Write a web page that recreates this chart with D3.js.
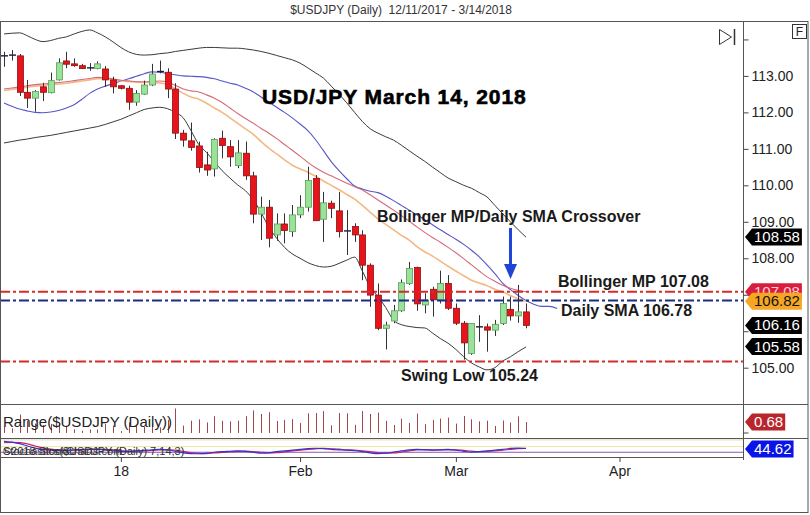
<!DOCTYPE html>
<html><head><meta charset="utf-8">
<script src="https://cdn.jsdelivr.net/npm/d3@7"></script>
<style>body{margin:0;background:#fff}svg{display:block}text{font-family:"Liberation Sans",Arial,sans-serif}</style>
</head><body><svg id="c" width="810" height="515"></svg>
<script>
// ---- data, one entry per daily bar starting 12/11/2017 ----
const open  = [113.56,113.57,113.55,112.55,112.39,112.70,112.54,112.89,113.41,113.33,113.28,113.22,113.20,113.19,112.89,112.73,112.66,112.28,112.50,112.75,113.12,113.10,112.64,111.43,111.22,111.08,110.56,110.45,111.29,111.06,110.54,110.88,110.26,109.21,109.40,108.64,108.94,108.73,109.19,109.40,110.19,109.07,109.51,109.30,108.75,108.87,108.64,107.81,106.99,106.08,106.28,106.56,107.31,107.75,106.72,107.15,106.86,107.31,106.63,106.22,105.39,106.12,106.12,106.03,106.21,106.60,106.42,106.53];
const high  = [113.66,113.71,113.60,112.89,112.61,112.81,113.09,113.48,113.66,113.48,113.33,113.35,113.40,113.27,112.98,112.75,112.73,112.61,112.87,113.33,113.42,113.21,112.80,111.52,111.72,111.20,110.92,111.29,111.50,111.24,111.24,111.20,110.37,109.69,109.60,109.23,109.23,109.46,109.73,110.51,110.28,109.82,109.58,109.82,109.32,108.96,108.77,107.86,107.31,106.26,106.72,107.42,107.90,107.77,107.04,107.22,107.66,107.54,106.76,106.28,106.21,106.44,106.21,106.31,106.95,106.95,107.27,106.76];
const low   = [113.25,113.42,112.45,112.12,112.02,112.31,112.52,112.87,113.21,113.25,113.19,113.14,113.18,112.70,112.52,112.63,112.07,112.18,112.48,112.72,113.07,112.39,111.27,111.06,110.95,110.35,110.26,110.24,110.74,110.51,110.47,110.15,108.96,108.50,108.30,108.48,108.41,108.59,109.10,109.28,109.03,108.45,109.10,108.57,108.09,108.45,107.40,106.67,106.03,105.50,106.22,106.53,107.27,106.56,106.49,106.40,106.76,106.58,106.17,105.22,105.35,105.71,105.44,105.87,106.17,106.29,106.23,106.08];
const close = [113.55,113.57,112.55,112.39,112.57,112.55,112.87,113.36,113.32,113.28,113.20,113.22,113.33,112.89,112.70,112.66,112.28,112.52,112.75,113.05,113.12,112.64,111.43,111.24,111.04,110.49,110.42,111.26,111.09,110.78,110.89,110.26,109.21,109.40,108.55,108.94,108.76,109.19,109.40,110.13,109.03,109.52,109.37,108.73,108.75,108.64,107.81,106.99,106.08,106.17,106.56,107.33,107.72,106.75,106.86,106.86,107.31,106.63,106.22,105.68,106.21,106.12,106.03,106.19,106.76,106.42,106.53,106.16];
const bbUpper = [114.15,114.17,114.18,114.10,114.00,113.94,113.97,114.03,114.07,114.15,114.22,114.26,114.18,114.07,113.93,113.78,113.66,113.59,113.57,113.58,113.61,113.63,113.67,113.70,113.73,113.76,113.78,113.78,113.77,113.76,113.76,113.74,113.71,113.67,113.62,113.56,113.50,113.44,113.35,113.22,113.08,112.94,112.72,112.50,112.26,112.00,111.75,111.55,111.43,111.33,111.24,111.10,110.95,110.80,110.66,110.50,110.35,110.20,110.10,110.00,109.92,109.80,109.68,109.45,109.22,109.00,108.78,108.58];
const bbLower = [111.16,111.20,111.24,111.27,111.31,111.34,111.37,111.41,111.45,111.49,111.53,111.57,111.61,111.67,111.74,111.81,111.90,111.99,112.08,112.12,112.14,112.10,112.00,111.85,111.50,111.12,110.90,110.65,110.40,110.20,110.01,109.85,109.60,109.25,108.85,108.55,108.30,108.12,108.00,107.88,107.80,107.76,107.78,107.86,107.95,108.03,107.65,107.21,106.95,106.65,106.30,106.18,106.13,106.10,106.09,105.95,105.80,105.67,105.50,105.30,105.13,105.02,104.94,105.00,105.18,105.30,105.44,105.57];
const bbMid   = [112.64,112.67,112.70,112.73,112.76,112.78,112.80,112.82,112.84,112.87,112.90,112.93,112.96,112.95,112.92,112.88,112.86,112.84,112.84,112.85,112.86,112.83,112.74,112.64,112.59,112.56,112.48,112.39,112.27,112.12,111.97,111.83,111.70,111.56,111.43,111.28,111.12,110.96,110.80,110.63,110.48,110.36,110.26,110.16,110.06,109.96,109.87,109.74,109.60,109.46,109.32,109.17,109.02,108.86,108.71,108.57,108.44,108.30,108.15,107.99,107.82,107.65,107.49,107.37,107.26,107.18,107.12,107.08];
const sma     = [112.60,112.63,112.66,112.69,112.72,112.74,112.76,112.78,112.80,112.83,112.86,112.89,112.92,112.92,112.90,112.87,112.85,112.83,112.82,112.82,112.81,112.76,112.65,112.52,112.42,112.36,112.25,112.12,112.00,111.85,111.70,111.55,111.40,111.20,111.02,110.86,110.70,110.55,110.45,110.36,110.25,110.12,110.00,109.88,109.75,109.62,109.45,109.26,109.08,108.93,108.78,108.63,108.50,108.32,108.18,108.06,107.92,107.78,107.65,107.52,107.40,107.32,107.25,107.15,107.08,106.98,106.89,106.82];
const blueLine = [112.26,112.17,112.09,112.04,112.00,111.99,112.01,112.05,112.12,112.21,112.36,112.52,112.64,112.72,112.79,112.86,112.92,112.99,113.06,113.11,113.10,113.06,113.03,113.00,112.99,112.98,112.96,112.92,112.86,112.80,112.75,112.66,112.56,112.42,112.28,112.14,112.00,111.85,111.68,111.50,111.25,110.95,110.65,110.40,110.18,109.98,109.90,109.84,109.80,109.70,109.58,109.45,109.32,109.19,109.06,108.92,108.78,108.65,108.52,108.38,108.22,108.04,107.82,107.58,107.32,107.14,106.98,106.84,106.74,106.68,106.68,106.62];
const stochK = [82,78,70,58,47,40,36,34,35,38,40,42,41,37,33,30,30,32,35,38,40,37,30,22,18,17,20,25,28,30,32,30,25,20,22,28,32,36,40,44,46,44,40,38,36,33,28,22,18,20,26,32,38,40,38,36,38,40,36,30,26,28,32,36,40,45,47,44.62];
const stochD = [75,77,76,69,58,48,41,37,35,36,37,40,41,40,37,33,31,31,32,35,38,38,36,30,23,19,18,21,24,28,30,31,29,25,22,23,27,32,36,40,43,45,43,41,38,36,32,28,23,20,21,26,32,37,39,38,37,38,38,35,31,28,29,32,36,40,44,45];
const xTickBars   = [15, 38, 58, 79];
const xTickLabels = ["18", "Feb", "Mar", "Apr"];
const yTickValues = [105,106,107,108,109,110,111,112,113,114];
const yLabeled    = [105,108,109,110,111,112,113];
const levelBollingerMP = 107.08, levelSMA = 106.84, levelSwingLow = 105.17;
const tags = [
  {v:108.58, t:"108.58", bg:"#000", fg:"#fff"},
  {v:107.08, t:"107.08", bg:"#d81e3c", fg:"#fbd0d8"},
  {v:106.82, t:"106.82", bg:"#f5a623", fg:"#111"},
  {v:106.16, t:"106.16", bg:"#000", fg:"#fff"},
  {v:105.58, t:"105.58", bg:"#000", fg:"#fff"}
];
const rangeLast = 0.68, stochLast = 44.62;

// ---- scales ----
const svg = d3.select("#c");
const x  = d3.scaleLinear().domain([0, 67]).range([4, 526]);
const y  = d3.scaleLinear().domain([105, 113]).range([367.7, 75.9]);
const yR = d3.scaleLinear().domain([0, 1]).range([433, 417]);
const yS = d3.scaleLinear().domain([0, 100]).range([457, 438]);
const AX = 743.5;

svg.append("rect").attr("width",810).attr("height",515).attr("fill","#fff");
svg.append("text").attr("x",401).attr("y",14).attr("text-anchor","middle")
  .attr("font-size",12).attr("fill","#333").style("white-space","pre")
  .text("$USDJPY (Daily)  12/11/2017 - 3/14/2018");

const defs = svg.append("defs");
defs.append("clipPath").attr("id","cm").append("rect").attr("x",0).attr("y",21).attr("width",743).attr("height",383);
defs.append("clipPath").attr("id","cr").append("rect").attr("x",0).attr("y",405).attr("width",743).attr("height",33);
defs.append("clipPath").attr("id","cs").append("rect").attr("x",0).attr("y",439).attr("width",743).attr("height",18);

const main = svg.append("g").attr("clip-path","url(#cm)");
const line = arr => d3.line().x((d,i)=>x(i)).y(d=>y(d)).curve(d3.curveMonotoneX)(arr);
main.append("path").attr("d",line(bbUpper)).attr("fill","none").attr("stroke","#3a3a3a").attr("stroke-width",1);
main.append("path").attr("d",line(bbLower)).attr("fill","none").attr("stroke","#3a3a3a").attr("stroke-width",1);
main.append("path").attr("d",line(blueLine)).attr("fill","none").attr("stroke","#5656c8").attr("stroke-width",1.1);
main.append("path").attr("d",line(sma)).attr("fill","none").attr("stroke","#f3b884").attr("stroke-width",1.6);
main.append("path").attr("d",line(bbMid)).attr("fill","none").attr("stroke","#d56a78").attr("stroke-width",1.1);

// candles
const cg = main.append("g");
open.forEach((o,i)=>{
  const c = close[i], cx = Math.round(x(i)) + 0.5;
  cg.append("line").attr("x1",cx).attr("x2",cx).attr("y1",y(high[i])).attr("y2",y(low[i]))
    .attr("stroke","#333").attr("stroke-width",1);
  if (Math.abs(o-c) < 0.02) {
    cg.append("line").attr("x1",cx-3.5).attr("x2",cx+3.5).attr("y1",y(c)).attr("y2",y(c))
      .attr("stroke","#1a1a40").attr("stroke-width",1.4);
  } else {
    const up = c > o;
    const top = y(Math.max(o,c)), bot = y(Math.min(o,c));
    cg.append("rect").attr("x",cx-3).attr("y",top).attr("width",6).attr("height",Math.max(1,bot-top))
      .attr("fill", up ? "#98e398" : "#e8141c").attr("stroke", up ? "#5e9a5e" : "#8e1010").attr("stroke-width",0.8);
  }
});

// dashed levels
const dash = "10,3,3,3";
[[levelBollingerMP,"#d62b2b"],[levelSMA,"#1c2a8a"],[levelSwingLow,"#d62b2b"]].forEach(([v,col])=>{
  svg.append("line").attr("x1",0).attr("x2",743).attr("y1",y(v)).attr("y2",y(v))
    .attr("stroke",col).attr("stroke-width",2).attr("stroke-dasharray",dash);
});

// annotations
svg.append("text").attr("x",262).attr("y",104).attr("font-family","DejaVu Sans").attr("font-weight","bold")
  .attr("font-size",21).attr("letter-spacing",0.9).attr("fill","#000").attr("stroke","#000").attr("stroke-width",0.6)
  .text("USD/JPY March 14, 2018");
const ann = (t,xx,yy)=>svg.append("text").attr("x",xx).attr("y",yy).attr("font-weight","bold")
  .attr("font-size",16).attr("fill","#1a1a1a").text(t);
ann("Bollinger MP/Daily SMA Crossover",377,222);
ann("Bollinger MP 107.08",558,287);
ann("Daily SMA 106.78",561,316);
ann("Swing Low 105.24",401,381);
// arrow
svg.append("line").attr("x1",510.5).attr("x2",510.5).attr("y1",228).attr("y2",266).attr("stroke","#1f44d8").attr("stroke-width",3);
svg.append("path").attr("d","M504,264 L517,264 L510.5,279 Z").attr("fill","#1f44d8");

// range panel
const rg = svg.append("g").attr("clip-path","url(#cr)");
high.forEach((h,i)=>{
  const cx = Math.round(x(i)) + 0.5;
  rg.append("line").attr("x1",cx).attr("x2",cx).attr("y1",yR(0)).attr("y2",yR(h-low[i]))
    .attr("stroke","#a0474c").attr("stroke-width",1);
});
svg.append("text").attr("x",3).attr("y",427).attr("font-size",15).attr("fill","#222").text("Range($USDJPY (Daily))");

// stoch panel
const sg = svg.append("g").attr("clip-path","url(#cs)");
[[90,"#e6d8b8"],[55,"#eee8a0"],[25,"#8a55b5"]].forEach(([v,col])=>{
  sg.append("line").attr("x1",0).attr("x2",743).attr("y1",yS(v)).attr("y2",yS(v)).attr("stroke",col).attr("stroke-width",1);
});
const sline = arr => d3.line().x((d,i)=>x(i)).y(d=>yS(d)).curve(d3.curveMonotoneX)(arr);
sg.append("path").attr("d",sline(stochD)).attr("fill","none").attr("stroke","#d0206a").attr("stroke-width",1.2);
sg.append("path").attr("d",sline(stochK)).attr("fill","none").attr("stroke","#3434d4").attr("stroke-width",1.2);
svg.append("text").attr("x",3).attr("y",455).attr("font-size",11).attr("fill","#333").text("©2018 StockCharts.com");
svg.append("text").attr("x",3).attr("y",455).attr("font-size",11).attr("fill","#333").text("Stochastics($USDJPY (Daily) 7,14,3)");

// frame & separators
const fr = svg.append("g").attr("stroke","#555").attr("stroke-width",1).attr("fill","none");
fr.append("rect").attr("x",0.5).attr("y",21.5).attr("width",807.5).attr("height",491);
fr.append("line").attr("x1",0).attr("x2",808).attr("y1",404.5).attr("y2",404.5);
fr.append("line").attr("x1",0).attr("x2",808).attr("y1",438.5).attr("y2",438.5);
fr.append("line").attr("x1",0).attr("x2",AX).attr("y1",457.5).attr("y2",457.5);
fr.append("line").attr("x1",AX).attr("x2",AX).attr("y1",21).attr("y2",460);

// y axis
const yAxis = d3.axisRight(y).tickValues(yTickValues).tickSize(5).tickPadding(3)
  .tickFormat(d => yLabeled.includes(d) ? d.toFixed(2) : "");
const ya = svg.append("g").attr("transform",`translate(${AX},0)`).call(yAxis);
ya.select(".domain").remove();
ya.selectAll("line").attr("stroke","#444");
ya.selectAll("text").attr("font-size",14).attr("fill","#222").attr("font-family","Liberation Sans, Arial");

// range axis zero
svg.append("g").attr("clip-path","url(#cr)").append("text").attr("x",749).attr("y",yR(0)+5)
  .attr("font-size",13).attr("fill","#222").text("0");
svg.append("line").attr("x1",AX).attr("x2",AX+5).attr("y1",yR(0)).attr("y2",yR(0)).attr("stroke","#444");

// x axis
const xAxis = d3.axisBottom(x).tickValues(xTickBars).tickSize(5).tickPadding(4)
  .tickFormat((d,i)=>xTickLabels[i]);
const xa = svg.append("g").attr("transform","translate(0,457)").call(xAxis);
xa.select(".domain").remove();
xa.selectAll("line").attr("stroke","#444");
xa.selectAll("text").attr("font-size",14).attr("fill","#222").attr("font-family","Liberation Sans, Arial");

// tags
function tag(yy, t, bg, fg){
  const g = svg.append("g");
  const tx = g.append("text").attr("x",754).attr("y",yy+5).attr("font-size",15).attr("fill",fg).text(t);
  const w = tx.node().getComputedTextLength();
  const r = 754 + w + 2;
  g.insert("path","text").attr("d",`M745,${yy} L752,${yy-8.5} L${r},${yy-8.5} L${r},${yy+8.5} L752,${yy+8.5} Z`).attr("fill",bg);
}
tags.forEach(d=>tag(y(d.v), d.t, d.bg, d.fg));
tag(yR(rangeLast), rangeLast.toFixed(2), "#b8262c", "#fff");
tag(yS(stochLast)+0.5, stochLast.toFixed(2), "#0a14e6", "#fff");

// icons
svg.append("rect").attr("x",792.5).attr("y",24.5).attr("width",14).attr("height",14).attr("fill","#fff").attr("stroke","#333");
svg.append("text").attr("x",799.5).attr("y",36).attr("text-anchor","middle").attr("font-size",12).attr("fill","#222").text("F");
svg.append("path").attr("d","M719.5,29.5 L731.5,37 L719.5,44.5 Z").attr("fill","none").attr("stroke","#333");
svg.append("line").attr("x1",734.5).attr("x2",734.5).attr("y1",29).attr("y2",45).attr("stroke","#333").attr("stroke-width",1.5);
</script></body></html>
